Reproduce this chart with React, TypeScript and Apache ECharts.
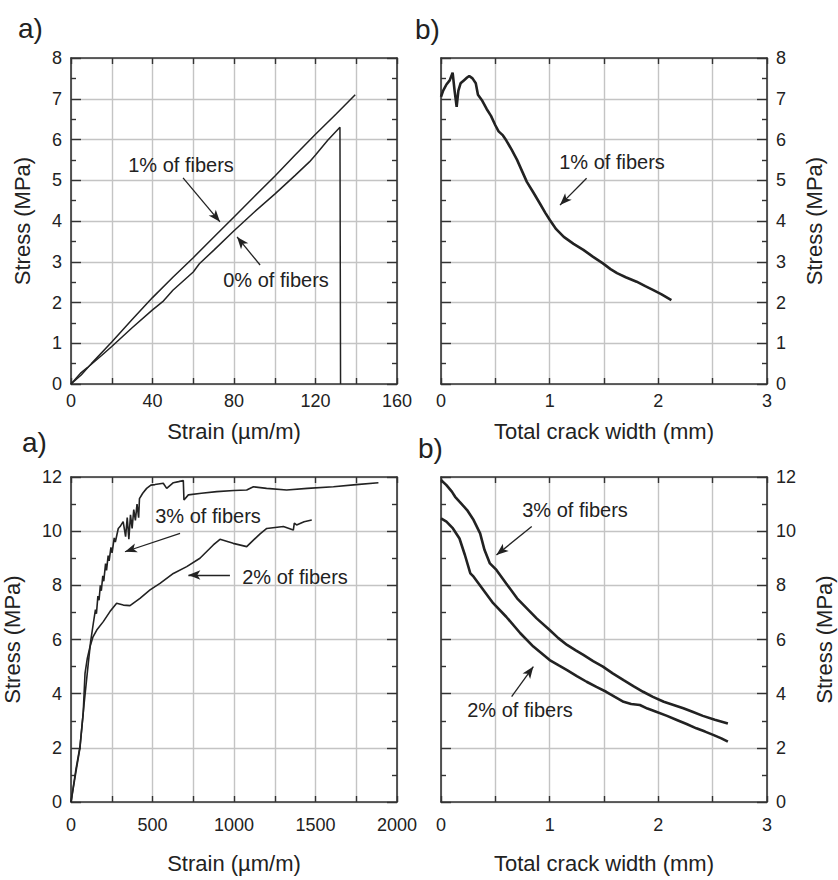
import React, { useEffect, useRef } from "react";
import * as echarts from "echarts";

// ---------- data ----------
const p1Fiber1: number[][] = [[0,0],[5,0.22],[10,0.5],[20,1.03],[30,1.58],[40,2.12],[50,2.62],[60,3.1],[70,3.6],[80,4.1],[90,4.6],[100,5.1],[110,5.62],[120,6.13],[130,6.62],[139.5,7.1]];
const p1Fiber0: number[][] = [[0,0],[5,0.28],[8,0.4],[15,0.7],[20,0.92],[30,1.38],[40,1.82],[45,2.02],[50,2.3],[60,2.75],[63,2.95],[70,3.28],[80,3.76],[90,4.22],[100,4.66],[110,5.12],[117,5.45],[120,5.62],[126,5.98],[132,6.3],[132.3,0]];
const p2Fiber1: number[][] = [[0,7.05],[0.02,7.2],[0.05,7.35],[0.08,7.45],[0.107,7.64],[0.125,7.2],[0.144,6.8],[0.16,7.2],[0.18,7.38],[0.21,7.45],[0.24,7.52],[0.26,7.56],[0.29,7.5],[0.32,7.38],[0.34,7.1],[0.38,6.95],[0.42,6.75],[0.46,6.58],[0.5,6.35],[0.53,6.2],[0.57,6.1],[0.6,5.98],[0.65,5.75],[0.7,5.5],[0.75,5.2],[0.79,4.96],[0.85,4.7],[0.91,4.43],[0.96,4.2],[1.0,4.03],[1.06,3.8],[1.13,3.61],[1.22,3.44],[1.31,3.29],[1.4,3.12],[1.49,2.96],[1.56,2.82],[1.62,2.72],[1.7,2.62],[1.8,2.51],[1.88,2.4],[1.95,2.31],[2.03,2.2],[2.12,2.06]];
const p3Fiber3: number[][] = [[0,0],[30,1.2],[55,2.04],[80,3.6],[106,5.12],[120,5.9],[137,6.6],[150,7.1],[156,6.95],[165,7.6],[172,7.45],[180,8.0],[186,7.8],[195,8.35],[201,8.15],[212,8.8],[218,8.55],[228,9.1],[234,8.9],[245,9.4],[252,9.2],[265,9.75],[272,9.6],[290,10.1],[301,10.17],[320,10.35],[335,9.8],[345,10.5],[355,9.7],[365,10.6],[375,10.1],[385,10.8],[395,10.4],[405,11.0],[415,10.5],[420,11.2],[440,11.4],[464,11.58],[490,11.7],[515,11.72],[566,11.77],[587,11.58],[628,11.79],[660,11.83],[689,11.87],[693,11.15],[720,11.34],[800,11.4],[894,11.46],[1000,11.5],[1078,11.52],[1119,11.64],[1200,11.58],[1323,11.52],[1450,11.58],[1610,11.64],[1750,11.72],[1886,11.79]];
const p3Fiber2: number[][] = [[0,0],[30,1.1],[55,2.0],[75,3.3],[86,4.75],[100,5.3],[117,5.74],[135,6.1],[158,6.35],[198,6.66],[239,7.03],[280,7.34],[321,7.27],[362,7.25],[423,7.52],[485,7.83],[546,8.07],[628,8.44],[710,8.69],[791,9.0],[873,9.49],[914,9.7],[995,9.55],[1078,9.43],[1119,9.67],[1160,9.9],[1201,10.1],[1303,10.17],[1364,10.04],[1370,10.3],[1384,10.23],[1430,10.35],[1477,10.41]];
const p4Fiber3: number[][] = [[0,11.89],[0.05,11.7],[0.1,11.46],[0.13,11.27],[0.17,11.09],[0.24,10.78],[0.3,10.41],[0.36,9.92],[0.4,9.31],[0.45,8.81],[0.51,8.57],[0.6,8.07],[0.7,7.52],[0.79,7.15],[0.88,6.78],[1.0,6.35],[1.08,6.05],[1.16,5.8],[1.24,5.6],[1.31,5.43],[1.4,5.2],[1.49,5.0],[1.58,4.75],[1.68,4.5],[1.77,4.28],[1.86,4.07],[1.95,3.88],[2.05,3.7],[2.14,3.58],[2.23,3.46],[2.32,3.32],[2.41,3.18],[2.52,3.04],[2.64,2.9]];
const p4Fiber2: number[][] = [[0,10.47],[0.05,10.35],[0.11,10.1],[0.17,9.73],[0.22,9.12],[0.27,8.44],[0.3,8.32],[0.39,7.83],[0.48,7.34],[0.6,6.84],[0.73,6.23],[0.85,5.74],[1.0,5.24],[1.08,5.05],[1.16,4.87],[1.25,4.65],[1.34,4.44],[1.43,4.25],[1.52,4.07],[1.6,3.88],[1.68,3.7],[1.75,3.62],[1.83,3.58],[1.9,3.45],[1.98,3.33],[2.08,3.18],[2.17,3.03],[2.26,2.88],[2.35,2.72],[2.43,2.6],[2.51,2.47],[2.58,2.35],[2.64,2.23]];

// arrows [from, to] in data units
const p1Arrows: number[][][] = [[[55, 5.06], [73.1, 3.98]], [[92.8, 2.92], [81.5, 3.61]]];
const p2Arrows: number[][][] = [[[1.34, 5.05], [1.095, 4.39]]];
const p3Arrows: number[][][] = [[[669, 9.92], [331, 9.24]], [[975, 8.38], [720, 8.38]]];
const p4Arrows: number[][][] = [[[0.835, 10.17], [0.51, 9.12]], [[0.65, 3.89], [0.85, 5.0]]];

const panelLabels = ["a)", "b)", "a)", "b)"];
const annotationTexts = ["1% of fibers", "0% of fibers", "1% of fibers", "3% of fibers", "2% of fibers", "3% of fibers", "2% of fibers"];
const xNames = ["Strain (\u00b5m/m)", "Total crack width (mm)", "Strain (\u00b5m/m)", "Total crack width (mm)"];
const yName = "Stress (MPa)";

const FONT = "'Liberation Sans', Arial, Helvetica, sans-serif";
const INK = "#222";
const GRIDC = "#c4c4c4";

export default function App() {
  const ref = useRef<HTMLDivElement>(null);
  useEffect(() => {
    document.body.style.margin = "0";
    const chart = echarts.init(ref.current!, null, { renderer: "svg" });

    const grids = [
      { left: 71, top: 58, width: 326, height: 326 },
      { left: 441, top: 58, width: 326, height: 326 },
      { left: 71, top: 477, width: 326, height: 325 },
      { left: 441, top: 477, width: 326, height: 325 },
    ];
    const xCfg = [
      { max: 160, interval: 20, labelEvery: 40, nameGap: 36, labelMargin: 8 },
      { max: 3, interval: 0.5, labelEvery: 1, nameGap: 36, labelMargin: 8 },
      { max: 2000, interval: 250, labelEvery: 500, nameGap: 50, labelMargin: 14 },
      { max: 3, interval: 0.5, labelEvery: 1, nameGap: 50, labelMargin: 14 },
    ];
    const yCfg = [
      { max: 8, interval: 1, pos: "left", nameGap: 38 },
      { max: 8, interval: 1, pos: "right", nameGap: 36 },
      { max: 12, interval: 2, pos: "left", nameGap: 48 },
      { max: 12, interval: 2, pos: "right", nameGap: 46 },
    ];

    const axisLine = { show: true, onZero: false, lineStyle: { color: "#333", width: 1.6 } };
    const xAxes: any[] = [];
    const yAxes: any[] = [];
    xCfg.forEach((c, i) => {
      xAxes.push({
        type: "value", gridIndex: i, position: "bottom", min: 0, max: c.max, interval: c.interval,
        name: xNames[i], nameLocation: "middle", nameGap: c.nameGap,
        nameTextStyle: { fontFamily: FONT, fontSize: 22, color: INK },
        axisLine, axisTick: { show: true, inside: true, length: 6, lineStyle: { color: "#333", width: 1.4 } },
        axisLabel: {
          margin: c.labelMargin, fontFamily: FONT, fontSize: 18, color: INK,
          formatter: (v: number) => (Math.abs(v / c.labelEvery - Math.round(v / c.labelEvery)) < 1e-6 ? String(v) : ""),
        },
        splitLine: { show: true, lineStyle: { color: GRIDC, width: 1.4 } },
      });
    });
    xCfg.forEach((c, i) => {
      xAxes.push({
        type: "value", gridIndex: i, position: "top", min: 0, max: c.max, interval: c.interval,
        axisLine, axisTick: { show: true, inside: true, length: 6, lineStyle: { color: "#333", width: 1.4 } },
        axisLabel: { show: false }, splitLine: { show: false },
      });
    });
    yCfg.forEach((c, i) => {
      yAxes.push({
        type: "value", gridIndex: i, position: c.pos, min: 0, max: c.max, interval: c.interval,
        name: yName, nameLocation: "middle", nameGap: c.nameGap,
        nameTextStyle: { fontFamily: FONT, fontSize: 22, color: INK },
        axisLine, axisTick: { show: true, inside: true, length: 10, lineStyle: { color: "#333", width: 1.4 } },
        minorTick: { show: true, splitNumber: 2, length: 5, lineStyle: { color: "#333", width: 1.4 } },
        axisLabel: { margin: 9, fontFamily: FONT, fontSize: 18, color: INK },
        splitLine: { show: true, lineStyle: { color: GRIDC, width: 1.4 } },
      });
    });
    yCfg.forEach((c, i) => {
      yAxes.push({
        type: "value", gridIndex: i, position: c.pos === "left" ? "right" : "left", min: 0, max: c.max, interval: c.interval,
        axisLine, axisTick: { show: true, inside: true, length: 10, lineStyle: { color: "#333", width: 1.4 } },
        minorTick: { show: true, splitNumber: 2, length: 5, lineStyle: { color: "#333", width: 1.4 } },
        axisLabel: { show: false }, splitLine: { show: false },
      });
    });

    const arrowML = (arr: number[][][]) => ({
      silent: true,
      symbol: ["none", "arrow"],
      symbolSize: [7, 12],
      label: { show: false },
      lineStyle: { color: INK, width: 1.3, type: "solid" },
      data: arr.map((a) => [{ coord: a[0] }, { coord: a[1] }]),
    });

    const line = (data: number[][], idx: number, width: number, ml?: any) => ({
      type: "line", xAxisIndex: idx, yAxisIndex: idx, data, showSymbol: false, symbol: "none",
      lineStyle: { color: INK, width }, z: 3, markLine: ml,
    });

    const series = [
      line(p1Fiber1, 0, 1.5, arrowML(p1Arrows)),
      line(p1Fiber0, 0, 1.5),
      line(p2Fiber1, 1, 2.6, arrowML(p2Arrows)),
      line(p3Fiber3, 2, 1.6, arrowML(p3Arrows)),
      line(p3Fiber2, 2, 1.6),
      line(p4Fiber3, 3, 2.6, arrowML(p4Arrows)),
      line(p4Fiber2, 3, 2.6),
    ];

    const txt = (text: string, x: number, y: number, size: number, align = "center") => ({
      type: "text", x, y, z: 10,
      style: { text, fontFamily: FONT, fontSize: size, fill: INK, align, verticalAlign: "middle" },
    });

    const graphic = [
      txt(panelLabels[0], 18, 28, 28, "left"),
      txt(panelLabels[1], 415, 29, 28, "left"),
      txt(panelLabels[2], 22, 442, 28, "left"),
      txt(panelLabels[3], 418, 448, 28, "left"),
      txt(annotationTexts[0], 181, 165, 20),
      txt(annotationTexts[1], 276, 280, 20),
      txt(annotationTexts[2], 612, 162, 20),
      txt(annotationTexts[3], 208, 516, 20),
      txt(annotationTexts[4], 295, 577, 20),
      txt(annotationTexts[5], 575, 510, 20),
      txt(annotationTexts[6], 520, 710, 20),
    ];

    chart.setOption({
      animation: false,
      backgroundColor: "#fff",
      grid: grids.map((g) => ({ ...g, containLabel: false })),
      xAxis: xAxes,
      yAxis: yAxes,
      series,
      graphic,
    });
    return () => chart.dispose();
  }, []);
  return <div ref={ref} style={{ width: 838, height: 880 }} />;
}
